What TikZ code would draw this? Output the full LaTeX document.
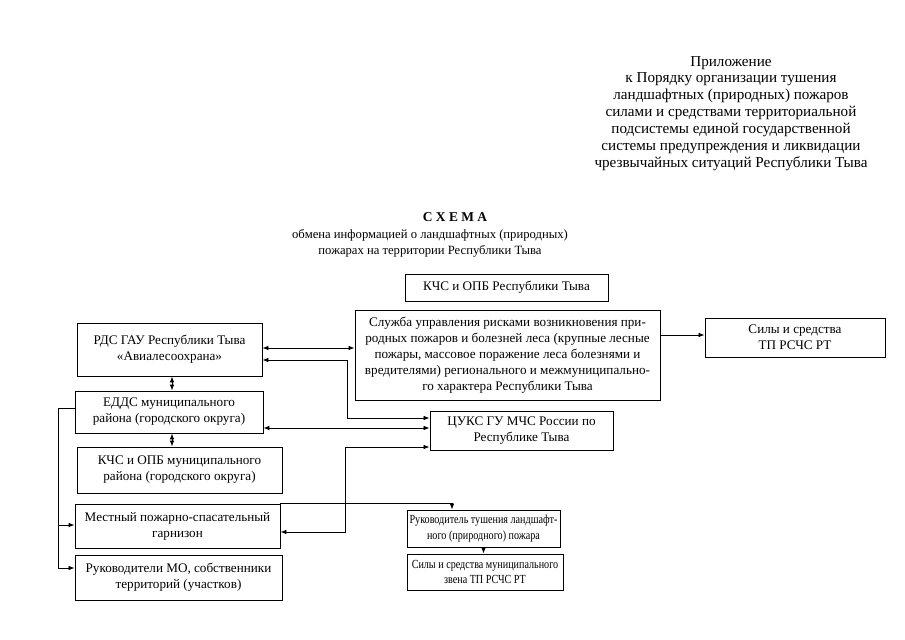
\documentclass[tikz,border=0pt]{standalone}
\usepackage{fontspec}
\setmainfont{Liberation Serif}
\newfontfamily\narrowserif[FakeStretch=0.82]{Liberation Serif}
\usetikzlibrary{arrows.meta}
\begin{document}
\begin{tikzpicture}[x=1bp,y=-1bp,
  font=\fontsize{13.2}{16}\selectfont,
  box/.style={draw,line width=0.9bp,inner sep=0pt,align=center},
  small/.style={font=\narrowserif\fontsize{12.4}{15.5}\selectfont},
  con/.style={line width=0.7bp},
  tip/.style={-{Latex[length=6bp,width=4.5bp]}},
  both/.style={{Latex[length=6bp,width=4.5bp]}-{Latex[length=6bp,width=4.5bp]}}]
\useasboundingbox (0,0) rectangle (905,640);
% header
\node[align=center,font=\fontsize{15.2}{17}\selectfont] (hdr) at (731,113.5) {Приложение\\к Порядку организации тушения\\ландшафтных (природных) пожаров\\силами и средствами территориальной\\подсистемы единой государственной\\системы предупреждения и ликвидации\\чрезвычайных ситуаций Республики Тыва};
\node[font=\fontsize{13.5}{16}\selectfont\bfseries] (ttl) at (455,217) {С Х Е М А};
\node[align=center,font=\fontsize{12.7}{16}\selectfont] (sub) at (430,243) {обмена информацией о ландшафтных (природных)\\пожарах на территории Республики Тыва};
% boxes
\node[box,minimum width=203bp,minimum height=27bp] (kchsrt) at (506.5,287.5) {КЧС и ОПБ Республики Тыва};
\node[box,minimum width=305bp,minimum height=90bp] (sluzh) at (507.5,355) {Служба управления рисками возникновения при-\\родных пожаров и болезней леса (крупные лесные\\пожары, массовое поражение леса болезнями и\\вредителями) регионального и межмуниципально-\\го характера Республики Тыва};
\node[box,minimum width=180bp,minimum height=39bp] (silyrt) at (795,337.5) {Силы и средства\\ТП РСЧС РТ};
\node[box,minimum width=185bp,minimum height=53bp] (rds) at (169.5,349.5) {РДС ГАУ Республики Тыва\\«Авиалесоохрана»};
\node[box,minimum width=188bp,minimum height=42bp] (edds) at (169,412) {ЕДДС муниципального\\района (городского округа)};
\node[box,minimum width=205bp,minimum height=46bp] (kchsmo) at (179.5,470) {КЧС и ОПБ муниципального\\района (городского округа)};
\node[box,minimum width=183bp,minimum height=39bp] (tsuks) at (521.5,430.5) {ЦУКС ГУ МЧС России по\\Республике Тыва};
\node[box,minimum width=205bp,minimum height=44bp] (garn) at (177.5,526) {Местный пожарно-спасательный\\гарнизон};
\node[box,minimum width=207bp,minimum height=45bp] (rukmo) at (178.5,577.5) {Руководители МО, собственники\\территорий (участков)};
\node[box,small,minimum width=153bp,minimum height=37bp] (ruktush) at (483.5,528.5) {Руководитель тушения ландшафт-\\ного (природного) пожара};
\node[box,small,minimum width=156bp,minimum height=36bp] (silymo) at (485,572) {Силы и средства муниципального\\звена ТП РСЧС РТ};
% connectors
\draw[con,both] (rds.east |- 0,348) -- (sluzh.west |- 0,348);
\draw[con,both] (rds.east |- 0,360) -- (347,360) -- (347,418) -- (tsuks.west |- 0,418);
\draw[con,both] (edds.east |- 0,428) -- (tsuks.west |- 0,428);
\draw[con,both] (garn.east |- 0,532) -- (345,532) -- (345,447) -- (tsuks.west |- 0,447);
\draw[con,tip] (sluzh.east |- 0,335) -- (silyrt.west |- 0,335);
\draw[con,both] (rds.south -| 172,0) -- (edds.north -| 172,0);
\draw[con,both] (edds.south -| 172,0) -- (kchsmo.north -| 172,0);
\draw[con,tip] (edds.west |- 0,408) -- (58,408) -- (58,568) -- (rukmo.west |- 0,568);
\draw[con,tip] (58,525) -- (garn.west |- 0,525);
\draw[con,tip] (garn.north east) -| (ruktush.north -| 452,0);
\draw[con,tip] (ruktush.south) -- (silymo.north -| ruktush.south);
\end{tikzpicture}
\end{document}
